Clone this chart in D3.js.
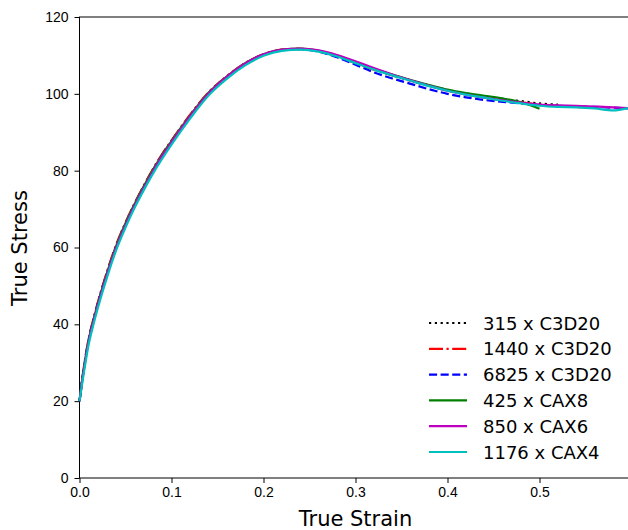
<!DOCTYPE html>
<html>
<head>
    <meta charset="utf-8">
    <style>
        body {
            margin: 0;
            background: #fff;
        }

        svg {
            display: block;
            font-family: 'DejaVu Sans', sans-serif;
        }

        .axis .domain {
            display: none;
        }

        .axis .tick line {
            stroke: #000;
            stroke-width: 1;
        }

        .axis .tick text {
            font-size: 14px;
            fill: #000;
        }

        .axis-label {
            font-size: 21px;
            fill: #000;
        }

        .legend-label {
            font-size: 18px;
            fill: #000;
        }
    </style>
</head>
<body>
    <svg width="628" height="530"></svg>

    <script src="https://d3js.org/d3.v7.min.js"></script>
    <script>
        // strain values shared by all runs
        let strain = [0, .005, .01, .015, .02, .03, .04, .05, .06, .07, .08, .09, .10,
            .12, .14, .16, .18, .20, .22, .24, .26, .28, .30, .32, .34, .36, .38,
            .40, .42, .44, .46, .48, .50, .52, .54, .56, .58, .596]

        // true stress (shorter arrays stop earlier)
        let c3d20_315 = [20, 29, 36, 41, 45.5, 53.5, 60.5, 66.3, 71.4, 76, 80.3, 84.2, 87.7,
            94.3, 100.2, 104.5, 107.9, 110.2, 111.4, 111.7, 111.1, 109.8, 108.1, 106.4, 104.9,
            103.5, 102.2, 101.0, 100.0, 99.2, 98.6, 98.1, 97.5, 97.2]
        let c3d20_1440 = [20, 29.3, 36.3, 41.3, 45.8, 53.8, 60.8, 66.5, 71.6, 76.2, 80.5, 84.4, 87.9,
            94.5, 100.3, 104.6, 108.0, 110.3, 111.5, 111.7, 111.1, 109.7, 108.0, 106.3, 104.8,
            103.4, 102.1, 100.9, 99.9, 99.1, 98.4, 97.8, 97.2, 96.9, 96.6, 96.5]
        let c3d20_6825 = [20, 29, 36, 41, 45.5, 53.4, 60.4, 66.2, 71.3, 75.9, 80.2, 84.1, 87.6,
            94.2, 100.1, 104.4, 107.8, 110.1, 111.3, 111.6, 111.0, 109.5, 107.6, 105.6, 104.0,
            102.6, 101.2, 100.0, 99.1, 98.4, 97.9, 97.5, 97.1, 96.9, 96.7, 96.6, 96.4, 96.2]
        let cax8_425 = [20, 29, 36, 41, 45.5, 53.5, 60.5, 66.3, 71.4, 76, 80.3, 84.2, 87.7,
            94.3, 100.2, 104.5, 108.0, 110.3, 111.5, 111.8, 111.2, 109.9, 108.2, 106.5, 105.0,
            103.6, 102.3, 101.1, 100.2, 99.5, 98.8, 97.8, 96.1]
        let cax6_850 = [20, 28.6, 35.6, 40.6, 45.1, 53.1, 60.1, 65.9, 71.0, 75.6, 79.9, 83.9, 87.4,
            94.1, 100.0, 104.4, 107.9, 110.3, 111.5, 111.8, 111.3, 110.1, 108.5, 106.7, 105.0,
            103.5, 102.1, 100.8, 99.8, 99.0, 98.3, 97.7, 97.2, 97.0, 96.9, 96.7, 96.5, 96.3]
        let cax4_1176 = [20, 27.8, 34.8, 39.8, 44.3, 52.3, 59.4, 65.2, 70.4, 75.0, 79.3, 83.2, 86.8,
            93.5, 99.5, 103.9, 107.4, 109.9, 111.2, 111.5, 111.0, 109.7, 108.0, 106.3, 104.8,
            103.4, 102.0, 100.8, 99.8, 99.0, 98.2, 97.5, 96.9, 96.6, 96.5, 96.2, 95.7, 96.3]

        let labels = ["315 x C3D20", "1440 x C3D20", "6825 x C3D20", "425 x CAX8", "850 x CAX6", "1176 x CAX4"]
        let colors = ["#000000", "#ff0000", "#0000ff", "#008000", "#bf00bf", "#00bfbf"]
        let dashes = ["2.2,3.6", "14,3.5,2.2,3.5", "8.1,3.5", null, null, null]
        let stresses = [c3d20_315, c3d20_1440, c3d20_6825, cax8_425, cax6_850, cax4_1176]

        let xTicks = [0, 0.1, 0.2, 0.3, 0.4, 0.5]
        let yTicks = [0, 20, 40, 60, 80, 100, 120]

        let margin = { top: 17, left: 79.5, bottom: 478 }

        let svg = d3.select("svg")

        let x = d3.scaleLinear()
            .domain([0, 0.6])
            .range([margin.left, margin.left + 552])

        let y = d3.scaleLinear()
            .domain([0, 120])
            .range([margin.bottom, margin.top])

        // axes
        svg.append("g")
            .attr("class", "x axis")
            .attr("transform", `translate(0,${margin.bottom})`)
            .call(d3.axisBottom(x).tickValues(xTicks).tickSize(5).tickPadding(4).tickFormat(d3.format(".1f")))

        svg.append("g")
            .attr("class", "y axis")
            .attr("transform", `translate(${margin.left},0)`)
            .call(d3.axisLeft(y).tickValues(yTicks).tickSize(5).tickPadding(6).tickFormat(d3.format("d")))

        // spines
        svg.append("rect")
            .attr("x", margin.left)
            .attr("y", margin.top)
            .attr("width", x(0.6) - margin.left)
            .attr("height", margin.bottom - margin.top)
            .attr("fill", "none")
            .attr("stroke", "#000")
            .attr("stroke-width", 1)

        // the curves
        let line = d3.line()
            .x(d => x(d[0]))
            .y(d => y(d[1]))
            .curve(d3.curveMonotoneX)

        let runs = stresses.map((s, i) => ({
            label: labels[i],
            color: colors[i],
            dash: dashes[i],
            points: s.map((v, j) => [strain[j], v])
        }))

        svg.append("g")
            .selectAll("path")
            .data(runs)
            .join("path")
            .attr("d", d => line(d.points))
            .attr("fill", "none")
            .attr("stroke", d => d.color)
            .attr("stroke-width", 2.2)
            .attr("stroke-dasharray", d => d.dash)

        // axis labels
        svg.append("text")
            .attr("class", "axis-label")
            .attr("x", x(0.3))
            .attr("y", 526)
            .attr("text-anchor", "middle")
            .text("True Strain")

        svg.append("text")
            .attr("class", "axis-label")
            .attr("transform", "translate(27,248) rotate(-90)")
            .attr("text-anchor", "middle")
            .text("True Stress")

        // legend
        let legend = svg.append("g")
            .attr("transform", "translate(429,323)")

        let rows = legend.selectAll("g")
            .data(runs)
            .join("g")
            .attr("transform", (d, i) => `translate(0,${i * 25.8})`)

        rows.append("line")
            .attr("x1", 0)
            .attr("x2", 38)
            .attr("stroke", d => d.color)
            .attr("stroke-width", 2.2)
            .attr("stroke-dasharray", d => d.dash)

        rows.append("text")
            .attr("class", "legend-label")
            .attr("x", 54)
            .attr("y", 6.5)
            .text(d => d.label)
    </script>
</body>
</html>
